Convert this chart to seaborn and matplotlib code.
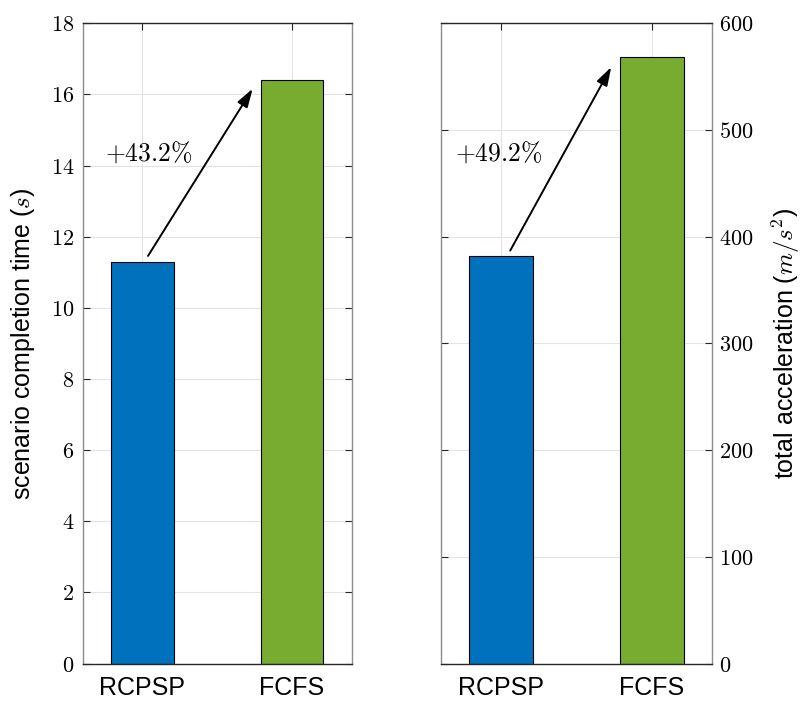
import matplotlib
matplotlib.use("Agg")
import matplotlib.pyplot as plt
import seaborn as sns
import pandas as pd

# Data
methods = ["RCPSP", "FCFS"]
completion_time = [11.28, 16.41]      # s
total_accel = [381.5, 568.0]          # m/s^2
time_gain = "+43.2%"
accel_gain = "+49.2%"

time_ticks = [0, 2, 4, 6, 8, 10, 12, 14, 16, 18]
accel_ticks = [0, 100, 200, 300, 400, 500, 600]

bar_colors = ["#0072BD", "#77AC30"]

sns.set_theme(style="white")
plt.rcParams["font.family"] = ["Liberation Sans", "DejaVu Sans"]
plt.rcParams["mathtext.fontset"] = "cm"

fig = plt.figure(figsize=(8.03, 7.02), dpi=100)
ax1 = fig.add_axes([0.103, 0.0548, 0.335, 0.912])
ax2 = fig.add_axes([0.549, 0.0548, 0.338, 0.912])

df_time = pd.DataFrame({"method": methods, "value": completion_time})
df_acc = pd.DataFrame({"method": methods, "value": total_accel})

AX_DARK = "#262626"
AX_GREY = "#8c8c8c"
GRID = "#e3e3e3"


def style_axes(ax, ticks, ylim, right_labels=False):
    ax.set_xlim(-0.4, 1.4)
    ax.set_ylim(*ylim)
    ax.set_yticks(ticks)
    ax.set_yticklabels([f"${t}$" for t in ticks], fontsize=16, color="black")
    ax.set_xticks([0, 1])
    ax.set_xticklabels(methods, fontsize=18, color="black")
    ax.set_xlabel("")
    ax.grid(True, color=GRID, linewidth=0.8)
    ax.set_axisbelow(True)
    for side in ("left", "right"):
        ax.spines[side].set_visible(True)
        ax.spines[side].set_color(AX_GREY)
        ax.spines[side].set_linewidth(1.0)
    for side in ("top", "bottom"):
        ax.spines[side].set_visible(True)
        ax.spines[side].set_color(AX_DARK)
        ax.spines[side].set_linewidth(1.0)
    ax.tick_params(axis="both", direction="in", length=5, width=0.8,
                   color=AX_DARK, left=True, right=True, top=True, bottom=True)
    ax.tick_params(axis="x", pad=9)
    if right_labels:
        ax.tick_params(axis="y", labelleft=False, labelright=True, pad=5)
        ax.yaxis.set_label_position("right")
    else:
        ax.tick_params(axis="y", pad=6)


for ax, df in ((ax1, df_time), (ax2, df_acc)):
    sns.barplot(data=df, x="method", y="value", hue="method",
                palette=bar_colors, saturation=1, width=0.42,
                edgecolor="black", linewidth=0.8, legend=False, ax=ax)

style_axes(ax1, time_ticks, (0, 18))
style_axes(ax2, accel_ticks, (0, 600), right_labels=True)

ax1.set_ylabel(r"scenario completion time ($s$)", fontsize=18,
               color="black", labelpad=10)
ax2.set_ylabel(r"total acceleration ($m/s^2$)", fontsize=18,
               color="black", labelpad=12)

# Relative increase arrows
arrow_kw = dict(arrowstyle="-|>,head_length=0.7,head_width=0.22",
                color="black", lw=1.4, mutation_scale=16,
                shrinkA=0, shrinkB=0)
ax1.annotate("", xy=(0.737, 16.16), xytext=(0.037, 11.46),
             arrowprops=arrow_kw)
ax1.text(-0.252, 14.37, f"${time_gain.replace('%', chr(92) + '%')}$",
         fontsize=18.5, ha="left", va="center", color="black")

ax2.annotate("", xy=(0.73, 559), xytext=(0.06, 387),
             arrowprops=arrow_kw)
ax2.text(-0.305, 479, f"${accel_gain.replace('%', chr(92) + '%')}$",
         fontsize=18.5, ha="left", va="center", color="black")

fig.savefig("out.png", dpi=100, facecolor="white")
